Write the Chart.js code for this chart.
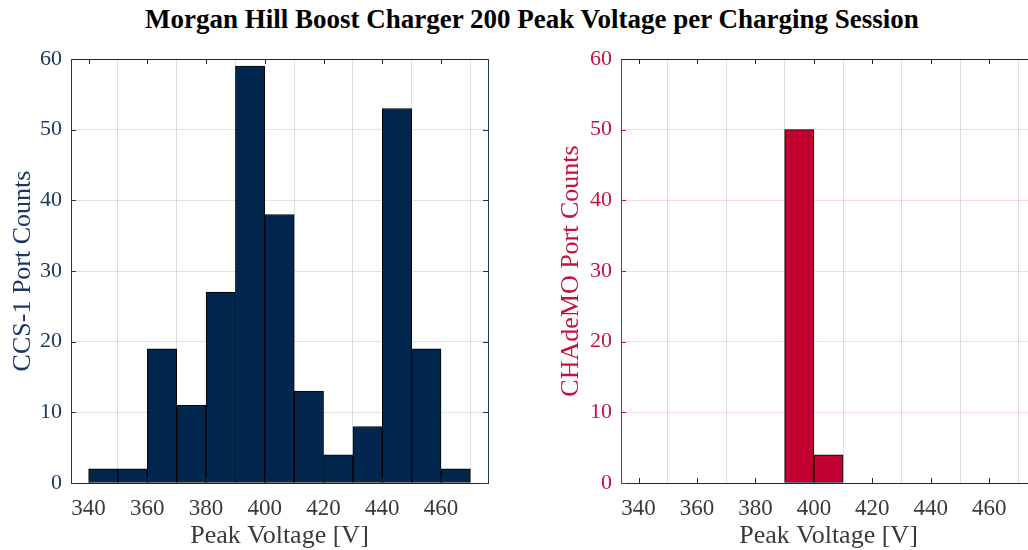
<!DOCTYPE html>
<html>
<head>
<meta charset="utf-8">
<script src="https://cdn.jsdelivr.net/npm/chart.js@4.4.1/dist/chart.umd.min.js"></script>
<style>
  html, body { margin:0; padding:0; width:1028px; height:550px; overflow:hidden; background:#fff; }
  #title { position:absolute; left:0; top:4px; width:1064px; text-align:center;
           font-family:"Liberation Serif", "Times New Roman", serif; font-weight:bold; font-size:27px; color:#000; }
  .panel { position:absolute; top:0; height:550px; }
  #p1 { left:0; width:510px; }
  #p2 { left:530px; width:520px; }
</style>
</head>
<body>
<div id="title">Morgan Hill Boost Charger 200 Peak Voltage per Charging Session</div>
<div class="panel" id="p1"><canvas id="c1"></canvas></div>
<div class="panel" id="p2"><canvas id="c2"></canvas></div>
<script>
// ---- data ----
const binStarts = [340, 350, 360, 370, 380, 390, 400, 410, 420, 430, 440, 450, 460];
const binWidth = 10;
const ccsCounts = [2, 2, 19, 11, 27, 59, 38, 13, 4, 8, 53, 19, 2];
const chademoCounts = [0, 0, 0, 0, 0, 50, 4, 0, 0, 0, 0, 0, 0];
const xTicks = [340, 360, 380, 400, 420, 440, 460];
const yTicks = [0, 10, 20, 30, 40, 50, 60];
const xMin = 334, xMax = 476, yMin = 0, yMax = 60;

const serif = '"Liberation Serif", "Times New Roman", serif';
const axisGray = '#262626';

function boxPlugin(yColor) {
  return {
    id: 'box',
    afterDraw(chart) {
      const {ctx, chartArea: a, scales} = chart;
      ctx.save();
      ctx.lineWidth = 1;
      ctx.strokeStyle = axisGray;
      const tl = 5;
      scales.x.ticks.forEach(t => {
        const px = Math.round(scales.x.getPixelForValue(t.value)) + 0.5;
        ctx.beginPath();
        ctx.moveTo(px, a.bottom); ctx.lineTo(px, a.bottom - tl);
        ctx.moveTo(px, a.top); ctx.lineTo(px, a.top + tl);
        ctx.stroke();
      });
      ctx.strokeStyle = yColor;
      scales.y.ticks.forEach(t => {
        const py = Math.round(scales.y.getPixelForValue(t.value)) + 0.5;
        ctx.beginPath();
        ctx.moveTo(a.left, py); ctx.lineTo(a.left + tl, py);
        ctx.moveTo(a.right, py); ctx.lineTo(a.right - tl, py);
        ctx.stroke();
      });
      ctx.strokeStyle = axisGray;
      ctx.beginPath();
      ctx.moveTo(a.left, Math.round(a.top) + 0.5); ctx.lineTo(a.right, Math.round(a.top) + 0.5);
      ctx.stroke();
      ctx.strokeStyle = yColor;
      ctx.beginPath();
      ctx.moveTo(Math.round(a.right) + 0.5, a.top); ctx.lineTo(Math.round(a.right) + 0.5, a.bottom);
      ctx.stroke();
      ctx.restore();
    }
  };
}

function makeChart(id, counts, fill, yColor, yGrid, yLabel, padRight, yAxisWidth, yTitlePad) {
  const data = binStarts.map((s, i) => ({x: s + binWidth / 2, y: counts[i]}));
  return new Chart(document.getElementById(id), {
    type: 'bar',
    data: { datasets: [{
      data,
      backgroundColor: fill,
      borderColor: '#000',
      borderWidth: 1,
      borderSkipped: false,
      barPercentage: 1,
      categoryPercentage: 1,
      grouped: false
    }]},
    options: {
      responsive: true,
      maintainAspectRatio: false,
      animation: false,
      events: [],
      layout: { padding: { top: 59, right: padRight, left: 0, bottom: 0 } },
      plugins: { legend: { display: false }, tooltip: { enabled: false }, title: { display: false } },
      scales: {
        x: {
          type: 'linear', min: xMin, max: xMax, offset: false,
          afterBuildTicks: s => { s.ticks = xTicks.map(v => ({value: v})); },
          afterFit: s => { s.height = 67; },
          grid: { color: 'rgba(0,0,0,0.13)', drawTicks: false },
          border: { color: axisGray, width: 1 },
          ticks: { color: '#3a3a3a', font: { family: serif, size: 23 }, padding: 12, maxRotation: 0,
                   callback: v => String(v) },
          title: { display: true, text: 'Peak Voltage [V]', color: '#3a3a3a',
                   font: { family: serif, size: 26 }, padding: { top: -2, bottom: -2 } }
        },
        y: {
          min: yMin, max: yMax,
          afterBuildTicks: s => { s.ticks = yTicks.map(v => ({value: v})); },
          afterFit: s => { s.width = yAxisWidth; },
          grid: { color: yGrid, drawTicks: false },
          border: { color: yColor, width: 1 },
          ticks: { color: yColor, font: { family: serif, size: 22 }, padding: 9 },
          title: { display: true, text: yLabel, color: yColor,
                   font: { family: serif, size: 26 }, padding: { top: yTitlePad, bottom: 0 } }
        }
      }
    },
    plugins: [boxPlugin(yColor)]
  });
}

makeChart('c1', ccsCounts, '#02274F', '#1c3766', 'rgba(28,55,102,0.15)', 'CCS-1 Port Counts', 22, 71, 8);
makeChart('c2', chademoCounts, '#C0002F', '#c8103f', 'rgba(200,16,63,0.15)', 'CHAdeMO Port Counts', 14, 91, 26);
</script>
</body>
</html>
